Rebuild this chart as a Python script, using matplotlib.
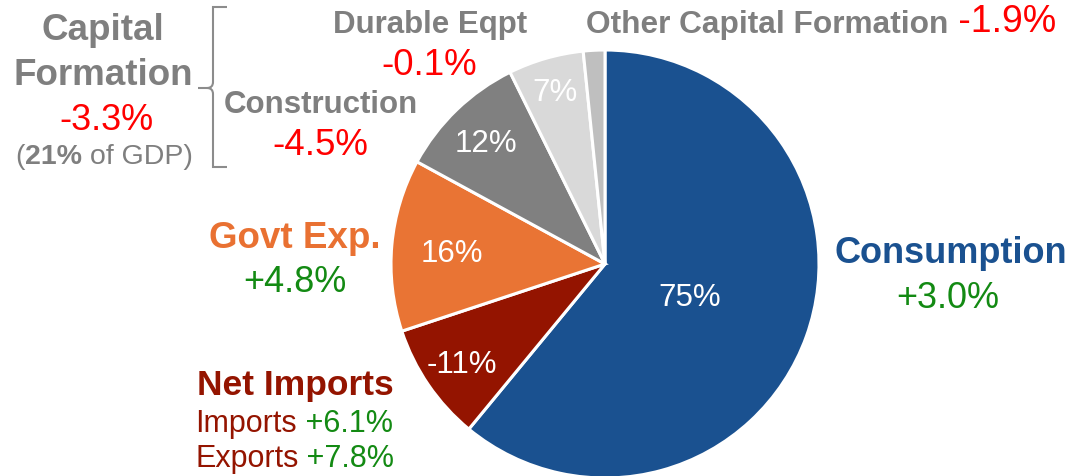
import matplotlib
matplotlib.use("Agg")
import matplotlib.pyplot as plt
from matplotlib.path import Path
from matplotlib.patches import PathPatch
import numpy as np

# ---- data ----
categories = ["Consumption", "Net Imports", "Govt Exp.", "Construction", "Durable Eqpt", "Other Capital Formation"]
shares = [75, 11, 16, 12, 7, 2]               # share of GDP (absolute size of slice)
share_labels = ["75%", "-11%", "16%", "12%", "7%", ""]
growth = {"Consumption": "+3.0%", "Govt Exp.": "+4.8%", "Construction": "-4.5%",
          "Durable Eqpt": "-0.1%", "Other Capital Formation": "-1.9%",
          "Capital Formation": "-3.3%", "Imports": "+6.1%", "Exports": "+7.8%"}
capital_share = "21%"

# ---- style ----
slice_colors = ["#1A5190", "#941400", "#E97434", "#808080", "#D9D9D9", "#BFBFBF"]
label_dist = [0.42, 0.81, 0.72, 0.80, 0.85, 0.8]
GRAY = "#7F7F7F"
RED = "#FF0000"
GREEN = "#138A13"
BLUE = "#1A5190"
DRED = "#941400"
ORANGE = "#E97132"

plt.rcParams['font.family'] = ['Liberation Sans', 'DejaVu Sans']

W, H = 1071, 476
fig = plt.figure(figsize=(W / 100, H / 100), dpi=100)
ax = fig.add_axes([0, 0, 1, 1])

def Y(py):
    return H - py

cx, cy, R = 605, Y(264), 214
wedges, _ = ax.pie(shares, colors=slice_colors, startangle=90, counterclock=False,
                   center=(cx, cy), radius=R,
                   wedgeprops=dict(edgecolor="white", linewidth=2.2))
ax.set_xlim(0, W)
ax.set_ylim(0, H)
ax.set_aspect("equal")
ax.axis("off")

for w, lab, d in zip(wedges, share_labels, label_dist):
    if not lab:
        continue
    ang = np.deg2rad((w.theta1 + w.theta2) / 2)
    ax.text(cx + d * R * np.cos(ang), cy + d * R * np.sin(ang), lab,
            color="white", fontsize=22.5, ha="center", va="center_baseline")

def chain(first, second, color2, size2=None, weight2="normal", gap=""):
    return ax.annotate(gap + second, xy=(1, 0), xycoords=first, va="bottom", ha="left",
                       color=color2, fontsize=size2 or first.get_fontsize(), fontweight=weight2)

# Capital formation block
ax.text(103, Y(40), "Capital", color=GRAY, fontsize=26.5, fontweight="bold", ha="center", va="baseline")
ax.text(103, Y(85), "Formation", color=GRAY, fontsize=26.5, fontweight="bold", ha="center", va="baseline")
ax.text(106, Y(130), growth["Capital Formation"], color=RED, fontsize=26, ha="center", va="baseline")
t1 = ax.text(15, Y(164), "(", color=GRAY, fontsize=20.5, ha="left", va="baseline")
t2 = chain(t1, capital_share, GRAY, 20.5, "bold")
chain(t2, " of GDP)", GRAY, 20.5)

# bracket
bx, top, mid, bot = 213, Y(7), Y(88), Y(167)
verts = [(227, top), (bx, top), (bx, mid + 6), (bx, mid), (bx - 6, mid), (198, mid),
         (bx - 6, mid), (bx, mid), (bx, mid - 6), (bx, bot), (227, bot)]
codes = [Path.MOVETO, Path.LINETO, Path.LINETO, Path.CURVE3, Path.CURVE3, Path.LINETO,
         Path.MOVETO, Path.CURVE3, Path.CURVE3, Path.LINETO, Path.LINETO]
ax.add_patch(PathPatch(Path(verts, codes), fill=False, edgecolor="#8C8C8C", linewidth=1.5))

# Construction
ax.text(321, Y(113), "Construction", color=GRAY, fontsize=22.5, fontweight="bold", ha="center", va="baseline")
ax.text(320, Y(155), growth["Construction"], color=RED, fontsize=26.5, ha="center", va="baseline")

# Durable
ax.text(430, Y(33), "Durable Eqpt", color=GRAY, fontsize=22.5, fontweight="bold", ha="center", va="baseline")
ax.text(429, Y(75), growth["Durable Eqpt"], color=RED, fontsize=26.5, ha="center", va="baseline")

# Other capital formation
t = ax.text(586, Y(33), "Other Capital Formation", color=GRAY, fontsize=22.8, fontweight="bold",
            ha="left", va="baseline")
chain(t, growth["Other Capital Formation"], RED, 27, gap=" ")

# Govt
ax.text(295, Y(248), "Govt Exp.", color=ORANGE, fontsize=26.5, fontweight="bold", ha="center", va="baseline")
ax.text(295, Y(292), growth["Govt Exp."], color=GREEN, fontsize=26, ha="center", va="baseline")

# Net imports
ax.text(295, Y(395), "Net Imports", color=DRED, fontsize=25.5, fontweight="bold", ha="center", va="baseline")
t = ax.text(195, Y(432), "Imports", color=DRED, fontsize=22, ha="left", va="baseline")
chain(t, growth["Imports"], GREEN, 22, gap=" ")
t = ax.text(195, Y(467), "Exports", color=DRED, fontsize=22, ha="left", va="baseline")
chain(t, growth["Exports"], GREEN, 22, gap=" ")

# Consumption
ax.text(951, Y(263), "Consumption", color=BLUE, fontsize=26, fontweight="bold", ha="center", va="baseline")
ax.text(948, Y(308), growth["Consumption"], color=GREEN, fontsize=26, ha="center", va="baseline")

fig.savefig("out.png", dpi=100)
